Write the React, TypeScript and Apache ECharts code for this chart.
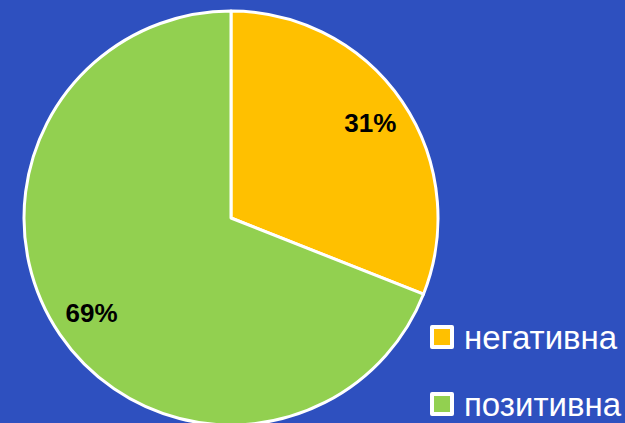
import React, { useEffect, useRef } from "react";
import * as echarts from "echarts";

const categories = ["негативна", "позитивна"];
const values = [31, 69];
const colors = ["#FFC000", "#92D050"];

export default function App() {
  const ref = useRef<HTMLDivElement>(null);
  useEffect(() => {
    if (!ref.current) return;
    const chart = echarts.init(ref.current, null, { renderer: "svg" });
    const data = categories.map((name, i) => ({
      name,
      value: values[i],
      itemStyle: { color: colors[i] },
    }));
    chart.setOption({
      animation: false,
      backgroundColor: "#2E50BF",
      legend: {
        orient: "vertical",
        left: 430,
        top: 320,
        padding: 0,
        height: 103,
        itemWidth: 20,
        itemHeight: 20,
        itemGap: 33,
        icon: "rect",
        itemStyle: { borderColor: "#FFFFFF", borderWidth: 4 },
        textStyle: {
          color: "#FFFFFF",
          fontSize: 33,
          fontFamily: "Liberation Sans",
          lineHeight: 34,
          padding: [0, 0, 0, 7],
        },
        data: categories,
      },
      series: [
        {
          type: "pie",
          center: [231, 218],
          radius: [0, 207],
          startAngle: 90,
          clockwise: true,
          label: { show: false },
          labelLine: { show: false },
          itemStyle: { borderColor: "#FFFFFF", borderWidth: 3 },
          emphasis: { disabled: true },
          data,
        },
        {
          type: "pie",
          center: [231, 218],
          radius: [124, 207],
          startAngle: 90,
          clockwise: true,
          silent: true,
          legendHoverLink: false,
          itemStyle: { color: "transparent", borderWidth: 0 },
          label: {
            show: true,
            position: "inside",
            formatter: (p: any) => p.value + "%",
            color: "#000000",
            fontSize: 26,
            fontWeight: "bold",
            fontFamily: "Liberation Sans",
          },
          labelLine: { show: false },
          emphasis: { disabled: true },
          data: categories.map((name, i) => ({ name: name + " ", value: values[i] })),
        },
      ],
    });
    return () => chart.dispose();
  }, []);
  return <div ref={ref} style={{ position: "absolute", left: 0, top: 0, width: 625, height: 423 }} />;
}
